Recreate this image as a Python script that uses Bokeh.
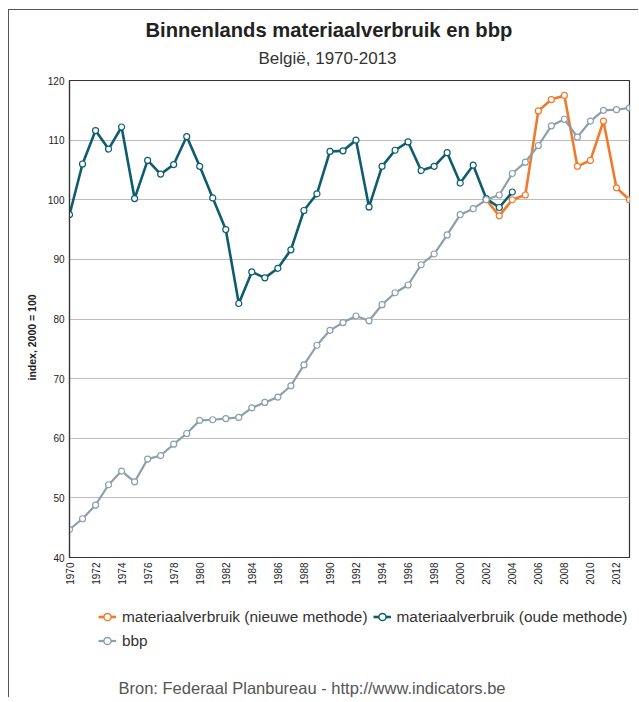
from bokeh.plotting import figure
from bokeh.layouts import column
from bokeh.models import (ColumnDataSource, Range1d, FixedTicker, Title, Legend, LegendItem, Label)
from bokeh.embed import file_html
from bokeh.resources import INLINE
import math

years = list(range(1970, 2014))

# materiaalverbruik (oude methode), 1970-2004
old_years = list(range(1970, 2005))
old_vals = [97.5, 106.0, 111.6, 108.5, 112.2, 100.2, 106.6, 104.3, 105.9, 110.6,
            105.6, 100.3, 95.0, 82.6, 87.9, 86.9, 88.5, 91.6, 98.2, 101.0,
            108.1, 108.2, 110.0, 98.8, 105.6, 108.3, 109.7, 104.9, 105.6, 107.9,
            102.8, 105.8, 100.2, 98.7, 101.3]

# materiaalverbruik (nieuwe methode), 2002-2013
new_years = list(range(2002, 2014))
new_vals = [100.0, 97.3, 100.0, 100.8, 114.9, 116.8, 117.5, 105.6, 106.6, 113.2, 102.0, 100.0]

# bbp, 1970-2013
bbp_vals = [44.7, 46.5, 48.8, 52.2, 54.5, 52.7, 56.5, 57.1, 59.0, 60.8,
            63.0, 63.1, 63.3, 63.5, 65.1, 66.0, 66.9, 68.8, 72.3, 75.6,
            78.1, 79.4, 80.5, 79.7, 82.4, 84.4, 85.7, 89.1, 90.9, 94.1,
            97.5, 98.5, 100.0, 100.8, 104.4, 106.3, 109.1, 112.4, 113.5, 110.5,
            113.2, 115.0, 115.1, 115.4]

x_ticks = list(range(1970, 2013, 2))
y_ticks = [40, 50, 60, 70, 80, 90, 100, 110, 120]

title_text = "Binnenlands materiaalverbruik en bbp"
subtitle_text = "België, 1970-2013"
ylabel_text = "index, 2000 = 100"
source_text = "Bron: Federaal Planbureau - http://www.indicators.be"
legend_labels = ["materiaalverbruik (nieuwe methode)", "materiaalverbruik (oude methode)", "bbp"]

C_NEW = "#f07a2a"
C_OLD = "#0e5d6f"
C_BBP = "#8b9fac"
STYLES = [(C_NEW, 2.6), (C_OLD, 2.6), (C_BBP, 2.2)]

FONT = "Liberation Sans"

# ---------------- main chart ----------------
p = figure(width=630, height=582, output_backend="svg", toolbar_location=None,
           x_range=Range1d(1970, 2013), y_range=Range1d(40, 120),
           min_border_left=60, min_border_right=10, min_border_top=70, min_border_bottom=35)
p.margin = (9, 0, 0, 8)
p.styles = {"border-left": "1px solid #555", "border-top": "1px solid #555"}

p.outline_line_color = "#333333"
p.outline_line_width = 1.2
p.xgrid.grid_line_color = None
p.ygrid.grid_line_color = "#bdbdbd"
p.ygrid.grid_line_width = 1.2

p.xaxis.ticker = FixedTicker(ticks=x_ticks)
p.yaxis.ticker = FixedTicker(ticks=y_ticks)
for ax in (p.xaxis[0], p.yaxis[0]):
    ax.axis_line_color = "#333333"
    ax.axis_line_width = 1.2
    ax.major_tick_line_color = None
    ax.minor_tick_line_color = None
    ax.major_tick_out = 0
    ax.major_tick_in = 0
    ax.major_label_text_font = FONT
    ax.major_label_text_font_size = "10px"
    ax.major_label_text_color = "#222222"
    ax.major_label_standoff = 5
p.xaxis.major_label_orientation = math.pi / 2

src_new = ColumnDataSource(dict(x=new_years, y=new_vals))
src_old = ColumnDataSource(dict(x=old_years, y=old_vals))
src_bbp = ColumnDataSource(dict(x=years, y=bbp_vals))

for src, (col, lw) in zip([src_new, src_old, src_bbp], STYLES):
    p.line("x", "y", source=src, line_color=col, line_width=lw)
    p.scatter("x", "y", source=src, marker="circle", size=6, fill_color="white",
              line_color=col, line_width=1.2)

p.title.visible = False
p.add_layout(Title(text=subtitle_text, align="left", offset=189, standoff=26,
                   text_font=FONT, text_font_style="normal", text_font_size="17px",
                   text_color="#333333"), "above")
p.add_layout(Title(text=title_text, align="left", offset=76, standoff=-14,
                   text_font=FONT, text_font_style="bold", text_font_size="20.2px",
                   text_color="#222222"), "above")
p.add_layout(Title(text=ylabel_text, align="left", offset=177, standoff=14,
                   text_font=FONT, text_font_style="bold", text_font_size="10.5px",
                   text_color="#222222"), "left")

# ---------------- legend + source ----------------
q = figure(width=630, height=106, output_backend="svg", toolbar_location=None,
           x_range=Range1d(0, 1), y_range=Range1d(0, 1),
           x_axis_type=None, y_axis_type=None,
           min_border_left=0, min_border_right=0, min_border_top=0, min_border_bottom=0)
q.margin = (0, 0, 0, 8)
q.styles = {"border-left": "1px solid #555"}
q.outline_line_color = None
q.xgrid.grid_line_color = None
q.ygrid.grid_line_color = None

# legend proxies: one NaN point each (nothing is drawn in the plot area)
items = []
for lab, (col, lw) in zip(legend_labels, STYLES):
    proxy = ColumnDataSource(dict(x=[float("nan")], y=[float("nan")]))
    rl = q.line("x", "y", source=proxy, line_color=col, line_width=lw)
    rm = q.scatter("x", "y", source=proxy, marker="circle", size=8, fill_color="white",
                   line_color=col, line_width=1.5)
    items.append(LegendItem(label=lab, renderers=[rl, rm]))

legend = Legend(items=items, location=(29, 47), ncols=2, orientation="horizontal")
legend.border_line_color = None
legend.background_fill_alpha = 0
legend.label_text_font = FONT
legend.label_text_font_size = "15.4px"
legend.label_text_color = "#333333"
legend.glyph_width = 18
legend.label_standoff = 6
legend.spacing = 5
legend.padding = 2
legend.margin = 0
legend.label_height = 19
legend.glyph_height = 19
q.add_layout(legend, "center")

q.add_layout(Label(x=49, y=10, x_units="screen", y_units="screen", text=source_text,
                   text_align="left", text_baseline="alphabetic", text_font=FONT,
                   text_font_size="16.5px", text_color="#555555"))

layout = column(p, q, spacing=0)
open("out.html", "w").write(file_html(layout, INLINE))
